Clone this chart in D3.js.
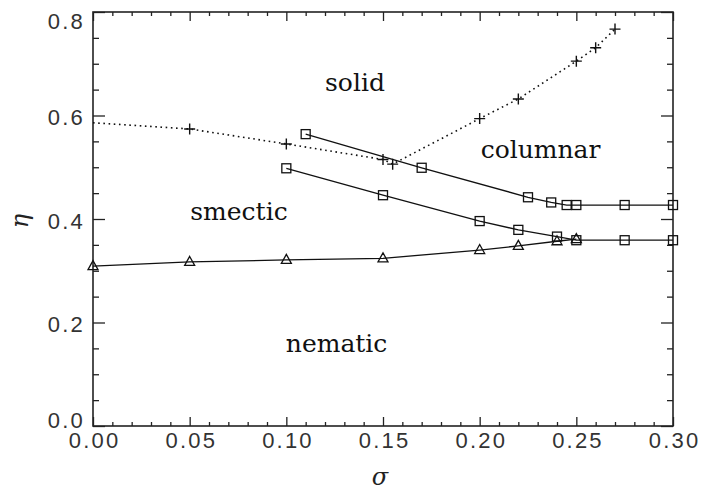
<!doctype html>
<html lang="en">
<head>
<meta charset="utf-8">
<title>Phase diagram</title>
<script src="https://d3js.org/d3.v7.min.js"></script>
<style>
  body { margin: 0; background: #fff; }
  .phase { font-family: "DejaVu Serif", serif; font-size: 25px; fill: #111; }
  .tk text { font-family: "Liberation Sans", Arial, sans-serif; font-size: 22px; fill: #333; letter-spacing: 2.2px; }
  .tk line { stroke: #222; stroke-width: 1.3; }
</style>
</head>
<body>
<script>
// tick values
var xMajor = [0, 0.05, 0.10, 0.15, 0.20, 0.25, 0.30];
var yMajor = [0, 0.2, 0.4, 0.6, 0.8];

// solid boundary (dotted, + markers); first point has no marker
var sigmaSolid = [0.00, 0.05, 0.10, 0.15, 0.155, 0.20, 0.22, 0.25, 0.26, 0.27];
var etaSolid   = [0.586, 0.574, 0.545, 0.515, 0.506, 0.594, 0.632, 0.705, 0.731, 0.767];

// upper square line
var sigmaColumnar = [0.11, 0.17, 0.225, 0.237, 0.245, 0.25, 0.275, 0.30];
var etaColumnar   = [0.564, 0.499, 0.442, 0.432, 0.427, 0.427, 0.427, 0.427];

// lower square line
var sigmaSmectic = [0.10, 0.15, 0.20, 0.22, 0.24, 0.25, 0.275, 0.30];
var etaSmectic   = [0.498, 0.446, 0.396, 0.379, 0.366, 0.359, 0.359, 0.359];

// triangle line
var sigmaNematic = [0.00, 0.05, 0.10, 0.15, 0.20, 0.22, 0.24, 0.25];
var etaNematic   = [0.309, 0.317, 0.321, 0.324, 0.340, 0.348, 0.357, 0.361];

// region labels (data coords of text baseline centre)
var phaseNames = ["solid", "columnar", "smectic", "nematic"];
var phaseSigma = [0.1355, 0.2315, 0.0755, 0.126];
var phaseEta   = [0.647, 0.518, 0.398, 0.1436];

var width = 701, height = 491;
var mLeft = 93, mRight = 673, mTop = 12, mBottom = 426;

var svg = d3.select("body").append("svg")
  .attr("width", width)
  .attr("height", height);

var x = d3.scaleLinear().domain([0, 0.30]).range([mLeft, mRight]);
var y = d3.scaleLinear().domain([0, 0.8]).range([mBottom, mTop]);

var xMinor = d3.range(0, 0.3001, 0.01).filter(v => Math.abs(v * 20 - Math.round(v * 20)) > 1e-6);
var yMinor = d3.range(0, 0.8001, 0.05).filter(v => Math.abs(v * 5 - Math.round(v * 5)) > 1e-6);

function zip(s, e) { return s.map((v, i) => ({ s: v, e: e[i] })); }

// ---- axes (inward ticks on all four sides)
function addAxis(axis, tx, ty) {
  var g = svg.append("g").attr("class", "tk")
    .attr("transform", "translate(" + tx + "," + ty + ")")
    .call(axis);
  g.select(".domain").remove();
  return g;
}

// bottom labels + majors
addAxis(d3.axisBottom(x).tickValues(xMajor).tickSizeInner(-9).tickSizeOuter(0)
  .tickPadding(5).tickFormat(d3.format(".2f")), 0, mBottom)
  .selectAll("text").attr("dy", "0.75em").attr("dx", "0.05em");
addAxis(d3.axisBottom(x).tickValues(xMinor).tickSizeInner(-4).tickSizeOuter(0).tickFormat(""), 0, mBottom);
addAxis(d3.axisTop(x).tickValues(xMajor).tickSizeInner(-9).tickSizeOuter(0).tickFormat(""), 0, mTop);
addAxis(d3.axisTop(x).tickValues(xMinor).tickSizeInner(-4).tickSizeOuter(0).tickFormat(""), 0, mTop);

// left labels + majors
var yl = addAxis(d3.axisLeft(y).tickValues(yMajor).tickSizeInner(-12).tickSizeOuter(0)
  .tickPadding(8).tickFormat(d3.format(".1f")), mLeft, 0);
yl.selectAll("text")
  .attr("dy", d => d === 0.8 ? "0.75em" : d === 0 ? "0.05em" : "0.42em");
addAxis(d3.axisLeft(y).tickValues(yMinor).tickSizeInner(-6).tickSizeOuter(0).tickFormat(""), mLeft, 0);
addAxis(d3.axisRight(y).tickValues(yMajor).tickSizeInner(-12).tickSizeOuter(0).tickFormat(""), mRight, 0);
addAxis(d3.axisRight(y).tickValues(yMinor).tickSizeInner(-6).tickSizeOuter(0).tickFormat(""), mRight, 0);

// frame
svg.append("rect")
  .attr("x", mLeft).attr("y", mTop)
  .attr("width", mRight - mLeft).attr("height", mBottom - mTop)
  .attr("fill", "none").attr("stroke", "#222").attr("stroke-width", 1.6);

// axis titles
svg.append("text")
  .attr("x", (mLeft + mRight) / 2 - 3).attr("y", 485)
  .attr("text-anchor", "middle")
  .attr("font-family", "DejaVu Serif, serif").attr("font-style", "italic")
  .attr("font-size", 24).attr("fill", "#222")
  .text("σ");
svg.append("text")
  .attr("transform", "translate(28," + ((mTop + mBottom) / 2 + 2) + ") rotate(-90)")
  .attr("text-anchor", "middle")
  .attr("font-family", "DejaVu Serif, serif").attr("font-style", "italic")
  .attr("font-size", 24).attr("fill", "#222")
  .text("η");

// ---- lines
var line = d3.line().x(d => x(d.s)).y(d => y(d.e));
var plot = svg.append("g");

var solid = zip(sigmaSolid, etaSolid);
var columnar = zip(sigmaColumnar, etaColumnar);
var smectic = zip(sigmaSmectic, etaSmectic);
var nematic = zip(sigmaNematic, etaNematic);

plot.append("path").datum(solid).attr("d", line)
  .attr("fill", "none").attr("stroke", "#111").attr("stroke-width", 1.6)
  .attr("stroke-dasharray", "1.6,3.6");
[columnar, smectic, nematic].forEach(function(data) {
  plot.append("path").datum(data).attr("d", line)
    .attr("fill", "none").attr("stroke", "#111").attr("stroke-width", 1.3);
});

// ---- markers
plot.selectAll(".plus").data(solid.filter((d, i) => i > 0)).enter()
  .append("path").attr("class", "plus")
  .attr("transform", d => "translate(" + x(d.s) + "," + y(d.e) + ")")
  .attr("d", "M-5.5,0H5.5M0,-5.5V5.5")
  .attr("stroke", "#111").attr("stroke-width", 1.4);

var sq = 9;
plot.selectAll(".sq").data(columnar.concat(smectic)).enter()
  .append("rect").attr("class", "sq")
  .attr("x", d => x(d.s) - sq / 2).attr("y", d => y(d.e) - sq / 2)
  .attr("width", sq).attr("height", sq)
  .attr("fill", "none").attr("stroke", "#111").attr("stroke-width", 1.3);

plot.selectAll(".tri").data(nematic).enter()
  .append("path").attr("class", "tri")
  .attr("transform", d => "translate(" + x(d.s) + "," + y(d.e) + ")")
  .attr("d", "M0,-5.5L5,3.5L-5,3.5Z")
  .attr("fill", "none").attr("stroke", "#111").attr("stroke-width", 1.3);

// ---- region labels
svg.selectAll(".phase").data(phaseNames).enter()
  .append("text").attr("class", "phase")
  .attr("x", (d, i) => x(phaseSigma[i]))
  .attr("y", (d, i) => y(phaseEta[i]))
  .attr("text-anchor", "middle")
  .text(d => d);
</script>
</body>
</html>
